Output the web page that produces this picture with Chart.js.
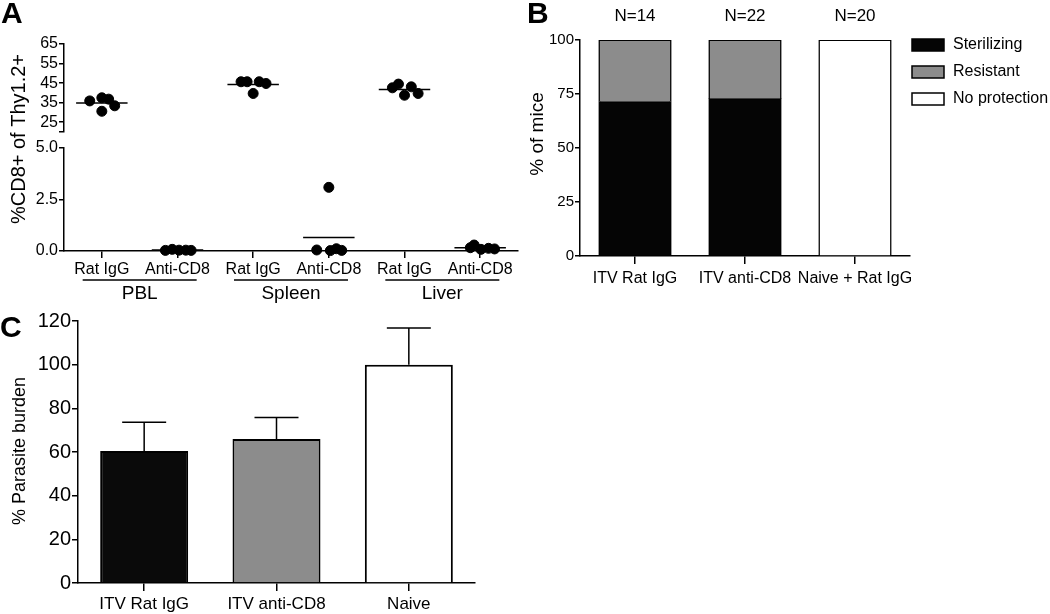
<!DOCTYPE html>
<html>
<head>
<meta charset="utf-8">
<script src="https://cdn.jsdelivr.net/npm/chart.js@4.4.0/dist/chart.umd.min.js"></script>
<style>
  html, body { margin: 0; padding: 0; background: #fff; }
  body { width: 1050px; height: 614px; position: relative; overflow: hidden; }
  canvas { position: absolute; }
</style>
</head>
<body>
<canvas id="chartAUpper" width="525" height="310" style="left:0;top:0"></canvas>
<canvas id="chartALower" width="525" height="310" style="left:0;top:0"></canvas>
<canvas id="chartB" width="525" height="300" style="left:525px;top:0"></canvas>
<canvas id="chartC" width="525" height="314" style="left:0;top:300px"></canvas>
<script>
const FONT = '"Liberation Sans", Arial, sans-serif';
Chart.defaults.font.family = FONT;
Chart.defaults.color = '#000';
Chart.defaults.animation = false;

// ---- panel A: %CD8+ of Thy1.2+
const treatments = ['Rat IgG', 'Anti-CD8', 'Rat IgG', 'Anti-CD8', 'Rat IgG', 'Anti-CD8'];
const tissues = ['PBL', 'Spleen', 'Liver'];
const pblRatIgG = [35.9, 37.5, 36.8, 33.4, 30.6];
const pblAntiCD8 = [0.03, 0.08, 0.04, 0.04, 0.03];
const spleenRatIgG = [45.7, 45.7, 45.7, 44.8, 39.7];
const spleenAntiCD8 = [3.09, 0.05, 0.02, 0.11, 0.03];
const liverRatIgG = [42.6, 44.5, 43.1, 39.7, 38.8];
const liverAntiCD8 = [0.16, 0.29, 0.08, 0.13, 0.10];
// sideways spread of the dots within a column (x units)
const pblRatIgGJitter = [-0.16, 0, 0.09, 0.17, 0];
const pblAntiCD8Jitter = [-0.16, -0.07, 0.02, 0.11, 0.18];
const spleenRatIgGJitter = [-0.16, -0.08, 0.08, 0.17, 0];
const spleenAntiCD8Jitter = [0, -0.16, 0.02, 0.1, 0.17];
const liverRatIgGJitter = [-0.16, -0.08, 0.09, 0.18, 0];
const liverAntiCD8Jitter = [-0.13, -0.08, 0.01, 0.11, 0.19];
const upperTicks = [20, 25, 35, 45, 55, 65];
const lowerTicks = [0, 2.5, 5];

// ---- panel B: % of mice
const groupsB = ['ITV Rat IgG', 'ITV anti-CD8', 'Naive + Rat IgG'];
const miceN = [14, 22, 20];
const sterilizing = [71.4, 72.7, 0];
const resistant = [28.6, 27.3, 0];
const noProtection = [0, 0, 100];

// ---- panel C: % parasite burden
const groupsC = ['ITV Rat IgG', 'ITV anti-CD8', 'Naive'];
const burden = [60.5, 66, 100];
const burdenErr = [13.1, 9.8, 16.8];

function dots(pos, values, jitter) {
  return {
    data: values.map((v, i) => ({ x: pos + jitter[i], y: v })),
    backgroundColor: '#000', borderColor: '#000',
    pointRadius: 5, pointHoverRadius: 5, clip: false
  };
}
function meanLine(pos, values) {
  const m = values.reduce((a, b) => a + b, 0) / values.length;
  return {
    data: [{ x: pos - 0.34, y: m }, { x: pos + 0.34, y: m }],
    showLine: true, borderColor: '#000', borderWidth: 1.5,
    pointRadius: 0, clip: false
  };
}

const axisLine = { color: '#000', width: 1.5 };
const tickGrid = len => ({ drawOnChartArea: false, color: '#000', lineWidth: 1.5, tickLength: len });
const noPlugins = { legend: { display: false }, tooltip: { enabled: false } };

function vText(ctx, text, x, y, size) {
  ctx.save();
  ctx.translate(x, y);
  ctx.rotate(-Math.PI / 2);
  ctx.textAlign = 'center';
  ctx.textBaseline = 'middle';
  ctx.font = size + 'px ' + FONT;
  ctx.fillText(text, 0, 0);
  ctx.restore();
}

const panelALabels = {
  id: 'panelALabels',
  afterDraw(chart) {
    const { ctx } = chart;
    const x = chart.scales.x;
    ctx.save();
    ctx.fillStyle = '#000';
    ctx.strokeStyle = '#000';
    ctx.font = 'bold 30px ' + FONT;
    ctx.fillText('A', 1, 23);
    vText(ctx, '%CD8+ of Thy1.2+', 19, 139, 20);
    ctx.lineWidth = 1.5;
    ctx.font = '19px ' + FONT;
    ctx.textAlign = 'center';
    ctx.textBaseline = 'middle';
    tissues.forEach((t, i) => {
      const c = (x.getPixelForValue(2 * i + 1) + x.getPixelForValue(2 * i + 2)) / 2;
      ctx.beginPath();
      ctx.moveTo(c - 57, 280);
      ctx.lineTo(c + 57, 280);
      ctx.stroke();
      ctx.fillText(t, c, 294);
    });
    ctx.restore();
  }
};

new Chart('chartAUpper', {
  type: 'scatter',
  data: {
    datasets: [
      dots(1, pblRatIgG, pblRatIgGJitter), meanLine(1, pblRatIgG),
      dots(3, spleenRatIgG, spleenRatIgGJitter), meanLine(3, spleenRatIgG),
      dots(5, liverRatIgG, liverRatIgGJitter), meanLine(5, liverRatIgG)
    ]
  },
  options: {
    responsive: false,
    layout: { padding: { top: 44, bottom: 178, left: 0, right: 7 } },
    plugins: noPlugins,
    scales: {
      x: { type: 'linear', display: false, min: 0.5, max: 6.5 },
      y: {
        min: 20, max: 65,
        afterFit: s => { s.width = 64; },
        afterBuildTicks: s => { s.ticks = upperTicks.map(v => ({ value: v })); },
        border: axisLine,
        grid: tickGrid(5),
        ticks: { font: { size: 16 }, padding: 1, autoSkip: false, callback: v => (v === 20 ? '' : v) }
      }
    }
  }
});

new Chart('chartALower', {
  type: 'scatter',
  data: {
    datasets: [
      dots(2, pblAntiCD8, pblAntiCD8Jitter), meanLine(2, pblAntiCD8),
      dots(4, spleenAntiCD8, spleenAntiCD8Jitter), meanLine(4, spleenAntiCD8),
      dots(6, liverAntiCD8, liverAntiCD8Jitter), meanLine(6, liverAntiCD8)
    ]
  },
  options: {
    responsive: false,
    layout: { padding: { top: 148, bottom: 0, left: 0, right: 7 } },
    plugins: noPlugins,
    scales: {
      x: {
        type: 'linear', min: 0.5, max: 6.5,
        afterFit: s => { s.height = 59; },
        afterBuildTicks: s => { s.ticks = treatments.map((t, i) => ({ value: i + 1 })); },
        border: axisLine,
        grid: tickGrid(7),
        ticks: { font: { size: 16 }, padding: 2, maxRotation: 0, autoSkip: false, callback: v => treatments[v - 1] }
      },
      y: {
        min: 0, max: 5,
        afterFit: s => { s.width = 64; },
        afterBuildTicks: s => { s.ticks = lowerTicks.map(v => ({ value: v })); },
        border: axisLine,
        grid: tickGrid(5),
        ticks: { font: { size: 16 }, padding: 1, autoSkip: false, callback: v => v.toFixed(1) }
      }
    }
  },
  plugins: [panelALabels]
});

// ---- panel B
const legendB = [
  { label: 'Sterilizing', color: '#050505' },
  { label: 'Resistant', color: '#8c8c8c' },
  { label: 'No protection', color: '#ffffff' }
];

const panelBLabels = {
  id: 'panelBLabels',
  afterDraw(chart) {
    const { ctx } = chart;
    const x = chart.scales.x;
    ctx.save();
    ctx.fillStyle = '#000';
    ctx.font = 'bold 30px ' + FONT;
    ctx.fillText('B', 2, 23);
    vText(ctx, '% of mice', 13, 134, 19);
    ctx.font = '17px ' + FONT;
    ctx.textAlign = 'center';
    ctx.textBaseline = 'middle';
    miceN.forEach((n, i) => ctx.fillText('N=' + n, x.getPixelForValue(i), 16));
    ctx.textAlign = 'left';
    ctx.font = '16px ' + FONT;
    ctx.lineWidth = 1.5;
    ctx.strokeStyle = '#000';
    legendB.forEach((item, i) => {
      const y = 45 + i * 27;
      ctx.fillStyle = item.color;
      ctx.fillRect(387, y - 6, 32, 12);
      ctx.strokeRect(387, y - 6, 32, 12);
      ctx.fillStyle = '#000';
      ctx.fillText(item.label, 428, y);
    });
    ctx.restore();
  }
};

new Chart('chartB', {
  type: 'bar',
  data: {
    labels: groupsB,
    datasets: [sterilizing, resistant, noProtection].map((d, i) => ({
      label: legendB[i].label,
      data: d,
      backgroundColor: legendB[i].color,
      borderColor: '#000',
      borderWidth: 1.5,
      inflateAmount: 0.6,
      barPercentage: 0.655,
      categoryPercentage: 1
    }))
  },
  options: {
    responsive: false,
    layout: { padding: { top: 40, right: 140, left: 0, bottom: 0 } },
    plugins: noPlugins,
    scales: {
      x: {
        stacked: true,
        afterFit: s => { s.height = 44; },
        border: axisLine,
        grid: { ...tickGrid(8), offset: false },
        ticks: { font: { size: 16 }, padding: 5, maxRotation: 0, autoSkip: false }
      },
      y: {
        stacked: true, min: 0, max: 100,
        afterFit: s => { s.width = 55; },
        border: axisLine,
        grid: tickGrid(5),
        ticks: { font: { size: 15 }, padding: 1, stepSize: 25 }
      }
    }
  },
  plugins: [panelBLabels]
});

// ---- panel C
const panelCLabels = {
  id: 'panelCLabels',
  afterDatasetsDraw(chart) {
    const { ctx } = chart;
    const { x, y } = chart.scales;
    ctx.save();
    ctx.strokeStyle = '#000';
    ctx.lineWidth = 1.5;
    burden.forEach((v, i) => {
      const px = x.getPixelForValue(i);
      const top = y.getPixelForValue(v + burdenErr[i]);
      ctx.beginPath();
      ctx.moveTo(px, y.getPixelForValue(v));
      ctx.lineTo(px, top);
      ctx.moveTo(px - 22, top);
      ctx.lineTo(px + 22, top);
      ctx.stroke();
    });
    ctx.restore();
  },
  afterDraw(chart) {
    const { ctx } = chart;
    ctx.save();
    ctx.fillStyle = '#000';
    ctx.font = 'bold 30px ' + FONT;
    ctx.fillText('C', 0, 37);
    vText(ctx, '% Parasite burden', 20, 151, 18);
    ctx.restore();
  }
};

new Chart('chartC', {
  type: 'bar',
  data: {
    labels: groupsC,
    datasets: [{
      data: burden,
      backgroundColor: ['#0a0a0a', '#8c8c8c', '#ffffff'],
      borderColor: '#000',
      borderWidth: 2,
      barPercentage: 0.665,
      categoryPercentage: 1
    }]
  },
  options: {
    responsive: false,
    layout: { padding: { top: 21, right: 50, left: 0, bottom: 0 } },
    plugins: noPlugins,
    scales: {
      x: {
        afterFit: s => { s.height = 31; },
        border: axisLine,
        grid: { ...tickGrid(8), offset: false },
        ticks: { font: { size: 17 }, padding: 3, maxRotation: 0 }
      },
      y: {
        min: 0, max: 120,
        afterFit: s => { s.width = 78; },
        border: axisLine,
        grid: tickGrid(6),
        ticks: { font: { size: 20 }, padding: 1, stepSize: 20 }
      }
    }
  },
  plugins: [panelCLabels]
});
</script>
</body>
</html>
